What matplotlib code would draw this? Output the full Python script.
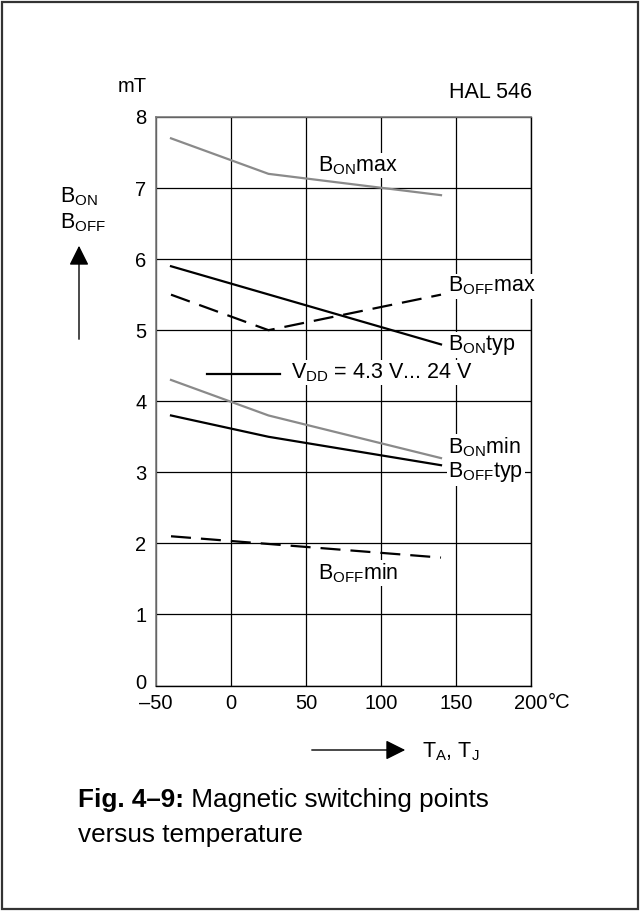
import matplotlib
matplotlib.use("Agg")
import matplotlib.pyplot as plt
from matplotlib.patches import Rectangle, FancyArrowPatch
from matplotlib.transforms import ScaledTranslation

plt.rcParams['font.family'] = ['Liberation Sans', 'DejaVu Sans']
plt.rcParams['mathtext.default'] = 'regular'

# ---- data (temperature in °C, flux density in mT) ----
bon_max_t = [-40, 25, 140]
bon_max_b = [7.7, 7.2, 6.9]

bon_typ_t = [-40, 140]
bon_typ_b = [5.9, 4.8]

boff_max_t = [-40, 25, 140]
boff_max_b = [5.5, 5.0, 5.5]

bon_min_t = [-40, 25, 140]
bon_min_b = [4.3, 3.8, 3.2]

boff_typ_t = [-40, 25, 140]
boff_typ_b = [3.8, 3.5, 3.1]

boff_min_t = [-40, 140]
boff_min_b = [2.1, 1.8]

x_ticks = [-50, 0, 50, 100, 150, 200]
x_tick_labels = ['\u201350', '0', '50', '100', '150', '200']
y_ticks = [0, 1, 2, 3, 4, 5, 6, 7, 8]

W, H = 640, 911
fig = plt.figure(figsize=(W / 100, H / 100), dpi=100)

def fx(px):
    return px / W

def fy(py):
    return 1 - py / H

# outer frame
fig.patches.append(Rectangle((fx(2), fy(909)), fx(636), 907 / H, transform=fig.transFigure,
                             fill=False, edgecolor='#333333', linewidth=1.6))

ax = fig.add_axes([fx(156), fy(685.5), fx(531) - fx(156), (685.5 - 117) / H])
ax.set_xlim(-50, 200)
ax.set_ylim(0, 8)
ax.set_xticks(x_ticks)
ax.set_xticklabels(x_tick_labels)
ax.set_yticks(y_ticks)
tfs = 14.5
ax.tick_params(length=0, labelsize=tfs, colors='black')
ax.tick_params(axis='y', pad=7)
ax.tick_params(axis='x', pad=6)
ax.grid(True, color='black', linewidth=0.9)
ax.set_axisbelow(True)
for s in ['left', 'top']:
    ax.spines[s].set_color('#7a7a7a')
    ax.spines[s].set_linewidth(1.2)
for s in ['right', 'bottom']:
    ax.spines[s].set_color('black')
    ax.spines[s].set_linewidth(1.0)

# lift the "0" label on the y axis a little, as in the reference
ylab0 = ax.get_yticklabels()[0]
ylab0.set_transform(ylab0.get_transform() + ScaledTranslation(0, 4 / 100, fig.dpi_scale_trans))

gray = '#8a8a8a'
lw = 1.6
dash = (0, (9, 4.5))
ax.plot(bon_max_t, bon_max_b, color=gray, lw=lw)
ax.plot(bon_typ_t, bon_typ_b, color='black', lw=lw)
ax.plot(boff_max_t, boff_max_b, color='black', lw=lw, linestyle=dash)
ax.plot(bon_min_t, bon_min_b, color=gray, lw=lw)
ax.plot(boff_typ_t, boff_typ_b, color='black', lw=lw)
ax.plot(boff_min_t, boff_min_b, color='black', lw=lw, linestyle=dash)

box = dict(facecolor='white', edgecolor='none', pad=1.0)
fs = 15.5
def lab(x, y, s):
    ax.text(x, y, s, fontsize=fs, ha='left', va='center', bbox=box, zorder=5)

lab(58, 7.32, r'B$_{ON}$max')
lab(145, 5.62, r'B$_{OFF}$max')
lab(145, 4.79, r'B$_{ON}$typ')
lab(145, 3.36, r'B$_{ON}$min')
lab(145, 3.0, r'B$_{OFF}$typ')
lab(58, 1.58, r'B$_{OFF}$min')

# V_DD legend line
ax.plot([-16, 32.7], [4.38, 4.38], color='black', lw=lw, zorder=5)
ax.text(40, 4.4, r'V$_{DD}$ = 4.3 V... 24 V', fontsize=fs, ha='left', va='center', bbox=box, zorder=5)

# "°C" after 200 tick
fig.text(fx(548), fy(703), '\u00b0C', fontsize=tfs, ha='left', va='center')

# y-axis unit and label
fig.text(fx(132), fy(86), 'mT', fontsize=tfs, ha='center', va='center')
fig.text(fx(60), fy(197), r'B$_{ON}$', fontsize=fs, ha='left', va='center')
fig.text(fx(60), fy(223), r'B$_{OFF}$', fontsize=fs, ha='left', va='center')
fig.patches.append(FancyArrowPatch((fx(79), fy(342)), (fx(79), fy(243)), transform=fig.transFigure,
                                   arrowstyle='-|>,head_length=6,head_width=3', color='black', lw=1.0,
                                   mutation_scale=2))
# HAL 546
fig.text(fx(532), fy(92), 'HAL 546', fontsize=fs, ha='right', va='center')

# x-axis arrow and label
fig.patches.append(FancyArrowPatch((fx(309), fy(750)), (fx(408), fy(750)), transform=fig.transFigure,
                                   arrowstyle='-|>,head_length=6,head_width=3', color='black', lw=1.0,
                                   mutation_scale=2))
fig.text(fx(422), fy(752), r'T$_A$, T$_J$', fontsize=fs, ha='left', va='center')

# caption
cfs = 18.8
t1 = fig.text(fx(78), fy(807), 'Fig. 4\u20139:', fontsize=cfs, fontweight='bold', ha='left', va='baseline')
fig.canvas.draw()
bb = t1.get_window_extent(renderer=fig.canvas.get_renderer())
fig.text(bb.x1 / W, fy(807), ' Magnetic switching points', fontsize=cfs, ha='left', va='baseline')
fig.text(fx(78), fy(842), 'versus temperature', fontsize=cfs, ha='left', va='baseline')

fig.savefig('out.png', dpi=100)
